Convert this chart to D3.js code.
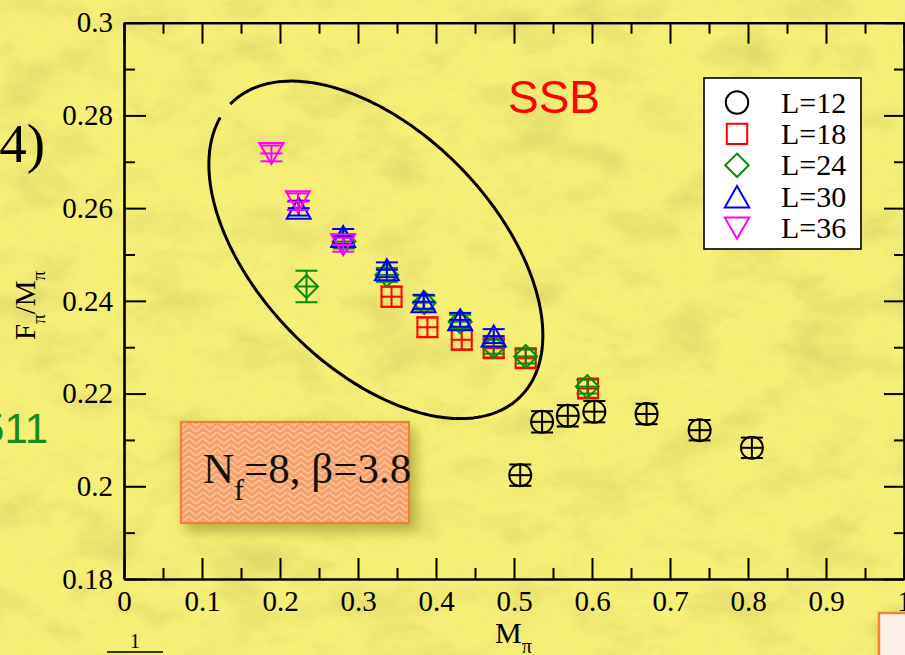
<!DOCTYPE html>
<html>
<head>
<meta charset="utf-8">
<script src="https://cdn.jsdelivr.net/npm/d3@7"></script>
<style>
  html, body { margin: 0; padding: 0; overflow: hidden; background: #f6ef74; }
  svg { display: block; }
</style>
</head>
<body>
<svg id="chart" width="905" height="655"></svg>
<script>
// ---- data -------------------------------------------------------------
const seriesNames  = ["L=12", "L=18", "L=24", "L=30", "L=36"];
const seriesColors = ["#000000", "#ff0000", "#0a8a0a", "#0000ff", "#ff00ff"];
const seriesShapes = ["circle", "square", "diamond", "triangleUp", "triangleDown"];

const mpiL12   = [0.508, 0.536, 0.569, 0.603, 0.670, 0.738, 0.805];
const ratioL12 = [0.2024, 0.2139, 0.2152, 0.2161, 0.2156, 0.2121, 0.2083];
const errL12   = [0.0023, 0.0023, 0.0023, 0.0023, 0.0022, 0.0022, 0.0022];

const mpiL18   = [0.343, 0.389, 0.433, 0.474, 0.515, 0.595];
const ratioL18 = [0.2409, 0.2343, 0.2316, 0.2298, 0.2276, 0.2211];
const errL18   = [0.0022, 0.0021, 0.0021, 0.0020, 0.0020, 0.0020];

const mpiL24   = [0.234, 0.282, 0.337, 0.385, 0.431, 0.474, 0.515, 0.594];
const ratioL24 = [0.2431, 0.2528, 0.2456, 0.2396, 0.2355, 0.2301, 0.2280, 0.2215];
const errL24   = [0.0034, 0.0015, 0.0015, 0.0015, 0.0015, 0.0015, 0.0015, 0.0015];

const mpiL30   = [0.224, 0.281, 0.337, 0.384, 0.431, 0.474];
const ratioL30 = [0.2600, 0.2539, 0.2467, 0.2398, 0.2359, 0.2324];
const errL30   = [0.0016, 0.0016, 0.0016, 0.0015, 0.0015, 0.0015];

const mpiL36   = [0.189, 0.223, 0.281];
const ratioL36 = [0.2718, 0.2614, 0.2521];
const errL36   = [0.0017, 0.0018, 0.0015];

const xTickValues  = [0, 0.1, 0.2, 0.3, 0.4, 0.5, 0.6, 0.7, 0.8, 0.9, 1];
const xTickLabels  = ["0", "0.1", "0.2", "0.3", "0.4", "0.5", "0.6", "0.7", "0.8", "0.9", "1"];
const xMinorValues = [0.05, 0.15, 0.25, 0.35, 0.45, 0.55, 0.65, 0.75, 0.85, 0.95];
const yTickValues  = [0.18, 0.2, 0.22, 0.24, 0.26, 0.28, 0.3];
const yTickLabels  = ["0.18", "0.2", "0.22", "0.24", "0.26", "0.28", "0.3"];
const yMinorValues = [0.19, 0.21, 0.23, 0.25, 0.27, 0.29];

// SSB region outline (centre in data units, radii in px)
const ssbRegion = { cx: 0.3229, cy: 0.2510, rx: 206, ry: 118, angle: 45.6, gapFrom: 171.6, gapTo: 179 };

// ---- setup ------------------------------------------------------------
const serif = "'Liberation Serif', 'Times New Roman', Times, serif";
const sans  = "'Liberation Sans', Arial, Helvetica, sans-serif";

const svg = d3.select("#chart");
const W = 905, H = 655;
const plot = { left: 124, right: 904, top: 22.7, bottom: 579 };

const x = d3.scaleLinear().domain([0, 1]).range([plot.left, plot.right]);
const y = d3.scaleLinear().domain([0.18, 0.3]).range([plot.bottom, plot.top]);

const defs = svg.append("defs");

// mottled parchment texture
const tex = defs.append("filter").attr("id", "mottle")
  .attr("x", 0).attr("y", 0).attr("width", "100%").attr("height", "100%");
tex.append("feTurbulence").attr("type", "fractalNoise")
  .attr("baseFrequency", "0.014 0.024").attr("numOctaves", 5).attr("seed", 7);
tex.append("feColorMatrix").attr("type", "matrix")
  .attr("values", "0 0 0 0 0.62  0 0 0 0 0.58  0 0 0 0 0.12  2.6 0 0 0 -1.22");

const grain = defs.append("filter").attr("id", "grain")
  .attr("x", 0).attr("y", 0).attr("width", "100%").attr("height", "100%");
grain.append("feTurbulence").attr("type", "fractalNoise")
  .attr("baseFrequency", "0.09 0.16").attr("numOctaves", 2).attr("seed", 2);
grain.append("feColorMatrix").attr("type", "matrix")
  .attr("values", "0 0 0 0 0.66  0 0 0 0 0.62  0 0 0 0 0.15  2.2 0 0 0 -1.0");

const shadow = defs.append("filter").attr("id", "boxShadow")
  .attr("x", "-20%").attr("y", "-20%").attr("width", "150%").attr("height", "160%");
shadow.append("feDropShadow").attr("dx", 5).attr("dy", 7).attr("stdDeviation", 7)
  .attr("flood-color", "#7d7418").attr("flood-opacity", 0.55);

// herringbone weave for the parameter box
const weave = defs.append("pattern").attr("id", "weave")
  .attr("patternUnits", "userSpaceOnUse").attr("width", 14).attr("height", 12);
weave.append("rect").attr("width", 14).attr("height", 12).attr("fill", "#f4a06b");
weave.append("path").attr("d", "M0,6 L7,0 L14,6 M0,12 L7,6 L14,12")
  .attr("fill", "none").attr("stroke", "#fbd0b0").attr("stroke-width", 1.6).attr("opacity", 0.75);

// background
svg.append("rect").attr("width", W).attr("height", H).attr("fill", "#f7f077");
svg.append("rect").attr("width", W).attr("height", H).attr("filter", "url(#mottle)").attr("opacity", 0.5);
svg.append("rect").attr("width", W).attr("height", H).attr("filter", "url(#grain)").attr("opacity", 0.14);

// ---- side annotations -------------------------------------------------
svg.append("text").attr("x", 45).attr("y", 162).attr("text-anchor", "end")
  .attr("font-family", serif).attr("font-size", 55).attr("fill", "#000").text("4)");

svg.append("text").attr("x", 48).attr("y", 443).attr("text-anchor", "end")
  .attr("font-family", sans).attr("font-size", 42).attr("fill", "#1b8a1b").text("511");

svg.append("text").attr("x", 135).attr("y", 648).attr("text-anchor", "middle")
  .attr("font-family", serif).attr("font-size", 20).attr("fill", "#000").text("1");
svg.append("line").attr("x1", 107).attr("x2", 163).attr("y1", 652).attr("y2", 652)
  .attr("stroke", "#000").attr("stroke-width", 1.5);

// partially visible card in the lower right corner
svg.append("rect").attr("x", 879).attr("y", 613).attr("width", 70).attr("height", 70)
  .attr("fill", "#fdf1ea").attr("stroke", "#e9853c").attr("stroke-width", 2.5)
  .attr("filter", "url(#boxShadow)");

// ---- parameter box ----------------------------------------------------
svg.append("rect").attr("x", 181).attr("y", 422).attr("width", 228).attr("height", 101)
  .attr("fill", "url(#weave)").attr("stroke", "#ec8236").attr("stroke-width", 2.2)
  .attr("filter", "url(#boxShadow)");
const nf = svg.append("text").attr("x", 203).attr("y", 483)
  .attr("font-family", serif).attr("font-size", 43).attr("fill", "#111");
nf.append("tspan").text("N");
nf.append("tspan").attr("font-size", 30).attr("dy", 17).text("f");
nf.append("tspan").attr("dy", -17).text("=8, β=3.8");

// ---- SSB outline ------------------------------------------------------
{
  const cx = x(ssbRegion.cx), cy = y(ssbRegion.cy);
  const th = ssbRegion.angle * Math.PI / 180;
  const ts = d3.range(ssbRegion.gapTo, ssbRegion.gapFrom + 360 + 0.01, 1);
  const pts = ts.map(t => {
    const r = t * Math.PI / 180;
    const u = ssbRegion.rx * Math.cos(r), v = ssbRegion.ry * Math.sin(r);
    return [cx + u * Math.cos(th) - v * Math.sin(th), cy + u * Math.sin(th) + v * Math.cos(th)];
  });
  svg.append("path").attr("d", d3.line()(pts))
    .attr("fill", "none").attr("stroke", "#000").attr("stroke-width", 3);
}

svg.append("text").attr("x", 508).attr("y", 113).attr("font-family", sans)
  .attr("font-size", 46).attr("fill", "#ff0000").text("SSB");

// ---- axes -------------------------------------------------------------
function styleAxis(g) {
  g.selectAll("path.domain").attr("stroke", "#000").attr("stroke-width", 2.2);
  g.selectAll(".tick line").attr("stroke", "#000").attr("stroke-width", 2);
  g.selectAll(".tick text").attr("font-family", serif).attr("font-size", 29).attr("fill", "#000");
}

// minor ticks
svg.append("g").attr("transform", `translate(0,${plot.bottom})`)
  .call(d3.axisBottom(x).tickValues(xMinorValues).tickSize(-11).tickSizeOuter(0).tickFormat(""))
  .call(styleAxis);
svg.append("g").attr("transform", `translate(0,${plot.top})`)
  .call(d3.axisTop(x).tickValues(xMinorValues).tickSize(-11).tickSizeOuter(0).tickFormat(""))
  .call(styleAxis);
svg.append("g").attr("transform", `translate(${plot.left},0)`)
  .call(d3.axisLeft(y).tickValues(yMinorValues).tickSize(-11).tickSizeOuter(0).tickFormat(""))
  .call(styleAxis);
svg.append("g").attr("transform", `translate(${plot.right},0)`)
  .call(d3.axisRight(y).tickValues(yMinorValues).tickSize(-10).tickSizeOuter(0).tickFormat(""))
  .call(styleAxis);

// major ticks
svg.append("g").attr("transform", `translate(0,${plot.bottom})`)
  .call(d3.axisBottom(x).tickValues(xTickValues).tickSize(-21).tickSizeOuter(0).tickPadding(11)
    .tickFormat((d, i) => xTickLabels[i]))
  .call(styleAxis);
svg.append("g").attr("transform", `translate(0,${plot.top})`)
  .call(d3.axisTop(x).tickValues(xTickValues).tickSize(-21).tickSizeOuter(0).tickFormat(""))
  .call(styleAxis);
svg.append("g").attr("transform", `translate(${plot.left},0)`)
  .call(d3.axisLeft(y).tickValues(yTickValues).tickSize(-22).tickSizeOuter(0).tickPadding(11)
    .tickFormat((d, i) => yTickLabels[i]))
  .call(styleAxis);
svg.append("g").attr("transform", `translate(${plot.right},0)`)
  .call(d3.axisRight(y).tickValues(yTickValues).tickSize(-20).tickSizeOuter(0).tickFormat(""))
  .call(styleAxis);

// axis titles
const xt = svg.append("text").attr("x", 495).attr("y", 643)
  .attr("font-family", serif).attr("font-size", 30).attr("fill", "#000");
xt.append("tspan").text("M");
xt.append("tspan").attr("font-size", 20).attr("dy", 10).text("π");

const yt = svg.append("text").attr("transform", "translate(35,340) rotate(-90)")
  .attr("font-family", serif).attr("font-size", 29).attr("fill", "#000");
yt.append("tspan").text("F");
yt.append("tspan").attr("font-size", 19).attr("dy", 10).text("π");
yt.append("tspan").attr("dy", -10).text("/M");
yt.append("tspan").attr("font-size", 19).attr("dy", 10).text("π");

// ---- markers ----------------------------------------------------------
const markerPath = {
  circle: s => { const p = d3.path(); p.arc(0, 0, 11 * s, 0, 2 * Math.PI); p.closePath(); return p.toString(); },
  square: s => `M${-10*s},${-10*s}H${10*s}V${10*s}H${-10*s}Z`,
  diamond: s => `M0,${-11.5*s}L${11.5*s},0L0,${11.5*s}L${-11.5*s},0Z`,
  triangleUp: s => `M0,${-10.5*s}L${12*s},${10.5*s}L${-12*s},${10.5*s}Z`,
  triangleDown: s => `M${-12*s},${-10.5*s}L${12*s},${-10.5*s}L0,${10.5*s}Z`
};

const series = [
  { xs: mpiL12, ys: ratioL12, es: errL12 },
  { xs: mpiL18, ys: ratioL18, es: errL18 },
  { xs: mpiL24, ys: ratioL24, es: errL24 },
  { xs: mpiL30, ys: ratioL30, es: errL30 },
  { xs: mpiL36, ys: ratioL36, es: errL36 }
].map((s, i) => ({
  name: seriesNames[i], color: seriesColors[i], shape: seriesShapes[i],
  points: s.xs.map((v, j) => ({ x: v, y: s.ys[j], e: s.es[j] }))
}));

const capHalf = 11;
series.forEach(s => {
  const g = svg.append("g").attr("stroke", s.color).attr("fill", "none").attr("stroke-width", 2);
  const pts = g.selectAll("g.pt").data(s.points).join("g").attr("class", "pt");
  // vertical error bar with caps
  pts.append("line")
    .attr("x1", d => x(d.x)).attr("x2", d => x(d.x))
    .attr("y1", d => y(d.y - d.e)).attr("y2", d => y(d.y + d.e));
  pts.append("line")
    .attr("x1", d => x(d.x) - capHalf).attr("x2", d => x(d.x) + capHalf)
    .attr("y1", d => y(d.y + d.e)).attr("y2", d => y(d.y + d.e));
  pts.append("line")
    .attr("x1", d => x(d.x) - capHalf).attr("x2", d => x(d.x) + capHalf)
    .attr("y1", d => y(d.y - d.e)).attr("y2", d => y(d.y - d.e));
  // horizontal bar through the point
  pts.append("line")
    .attr("x1", d => x(d.x) - capHalf).attr("x2", d => x(d.x) + capHalf)
    .attr("y1", d => y(d.y)).attr("y2", d => y(d.y));
  // symbol
  pts.append("path")
    .attr("transform", d => `translate(${x(d.x)},${y(d.y)})`)
    .attr("d", markerPath[s.shape](1));
});

// ---- legend -----------------------------------------------------------
const legend = svg.append("g");
legend.append("rect").attr("x", 704).attr("y", 78).attr("width", 157).attr("height", 171)
  .attr("fill", "#ffffff").attr("stroke", "#000").attr("stroke-width", 1.6);
const rows = legend.selectAll("g.row").data(series).join("g").attr("class", "row")
  .attr("transform", (d, i) => `translate(0,${112.5 + i * 31.4})`);
rows.append("path")
  .attr("transform", "translate(737,-10)")
  .attr("d", d => markerPath[d.shape](1.02))
  .attr("fill", "none").attr("stroke", d => d.color).attr("stroke-width", 2);
rows.append("text").attr("x", 781).attr("y", 0)
  .attr("font-family", serif).attr("font-size", 30).attr("fill", "#000")
  .text(d => d.name);
</script>
</body>
</html>
